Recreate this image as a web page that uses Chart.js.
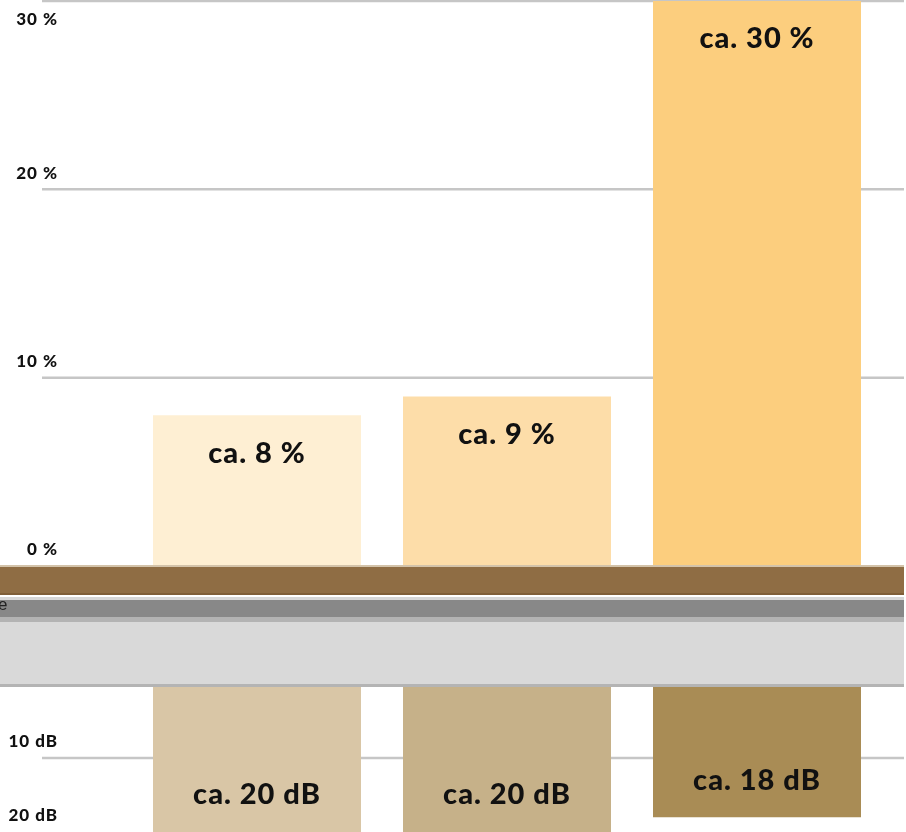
<!DOCTYPE html>
<html>
<head>
<meta charset="utf-8">
<script src="https://cdn.jsdelivr.net/npm/chart.js@4.4.1/dist/chart.umd.min.js"></script>
<style>
  body { margin: 0; background: #fff; }
  #wrap { position: relative; width: 906px; height: 832px; overflow: hidden; }
  canvas { position: absolute; left: 0; }
  .band { position: absolute; left: 0; width: 904px; }
  #cut { position: absolute; left: -2px; top: 595px; font: 17px "Liberation Sans", Arial, sans-serif; color: #222; }
</style>
</head>
<body>
<div id="wrap">
  <canvas id="share" width="906" height="566" style="top:0"></canvas>
  <canvas id="damp" width="906" height="148" style="top:684px"></canvas>

  <div class="band" style="top:565px;height:2px;background:#d3c3aa"></div>
  <div class="band" style="top:567px;height:26px;background:#8f6d44"></div>
  <div class="band" style="top:593px;height:2px;background:#7f5e38"></div>
  <div class="band" style="top:597px;height:3px;background:#d6d6d6"></div>
  <div class="band" style="top:600px;height:17px;background:#888888"></div>
  <div class="band" style="top:617px;height:5px;background:#b3b3b3"></div>
  <div class="band" style="top:622px;height:62px;background:#d9d9d9"></div>
  <div class="band" style="top:684px;height:3px;background:#b4b4b4"></div>
  <div id="cut">e</div>
</div>

<script>
// three columns, upper panel in percent, lower panel in decibels (hanging down)
const groups = ['1', '2', '3'];
const shareValues = [8, 9, 30];
const shareColors = ['#feefd3', '#fddda9', '#fcce7e'];
const shareTicks = [0, 10, 20, 30];

const dampValues = [20, 20, 18];
const dampColors = ['#d9c6a6', '#c6b189', '#a98c55'];
const dampTicks = [10, 20];

const FONT = 'Lato, "Open Sans", sans-serif';

// grid lines run wider than the plot area, labels sit just above their line
const sideAxis = {
  id: 'sideAxis',
  beforeDatasetsDraw(chart, args, opts) {
    const ctx = chart.ctx;
    const y = chart.scales.y;
    ctx.save();
    ctx.strokeStyle = '#c6c6c6';
    ctx.lineWidth = 2.5;
    opts.ticks.forEach(v => {
      const py = y.getPixelForValue(v);
      if (py >= chart.height - 1) return; // line on the canvas edge stays hidden
      ctx.beginPath();
      ctx.moveTo(42, py);
      ctx.lineTo(904, py);
      ctx.stroke();
    });
    ctx.font = '900 17px ' + FONT;
    ctx.letterSpacing = '1px';
    ctx.fillStyle = '#111';
    ctx.textAlign = 'right';
    ctx.textBaseline = 'middle';
    opts.ticks.forEach(v => {
      const py = y.getPixelForValue(v);
      const ly = py - 16 < 8 ? py + 19 : py - 16;
      ctx.fillText(v + ' ' + opts.unit, 58, ly);
    });
    ctx.restore();
  },
  afterDatasetsDraw(chart, args, opts) {
    const ctx = chart.ctx;
    const meta = chart.getDatasetMeta(0);
    const values = chart.data.datasets[0].data;
    ctx.save();
    ctx.font = '900 29px ' + FONT;
    ctx.letterSpacing = '1px';
    ctx.fillStyle = '#111';
    ctx.textAlign = 'center';
    ctx.textBaseline = 'middle';
    meta.data.forEach((bar, i) => {
      ctx.fillText('ca. ' + values[i] + ' ' + opts.unit, bar.x, bar.y + opts.shift);
    });
    ctx.restore();
  }
};

function makeChart(id, values, colors, max, reverse, ticks, unit, shift, pad) {
  return new Chart(document.getElementById(id), {
    type: 'bar',
    data: {
      labels: groups,
      datasets: [{
        data: values,
        backgroundColor: colors,
        borderWidth: 0,
        categoryPercentage: 1,
        barPercentage: 0.832
      }]
    },
    options: {
      responsive: false,
      animation: false,
      layout: { padding: pad },
      plugins: {
        legend: { display: false },
        tooltip: { enabled: false },
        sideAxis: { ticks: ticks, unit: unit, shift: shift }
      },
      scales: {
        x: { display: false },
        y: { display: false, min: 0, max: max, reverse: reverse }
      }
    },
    plugins: [sideAxis]
  });
}

document.fonts.load('900 29px Lato').then(() => {
  makeChart('share', shareValues, shareColors, 30, false, shareTicks, '%', 38,
    { left: 132, right: 24, top: 1, bottom: 0 });
  makeChart('damp', dampValues, dampColors, 20, true, dampTicks, 'dB', -37,
    { left: 132, right: 24, top: 0, bottom: 0 });
});
</script>
</body>
</html>
